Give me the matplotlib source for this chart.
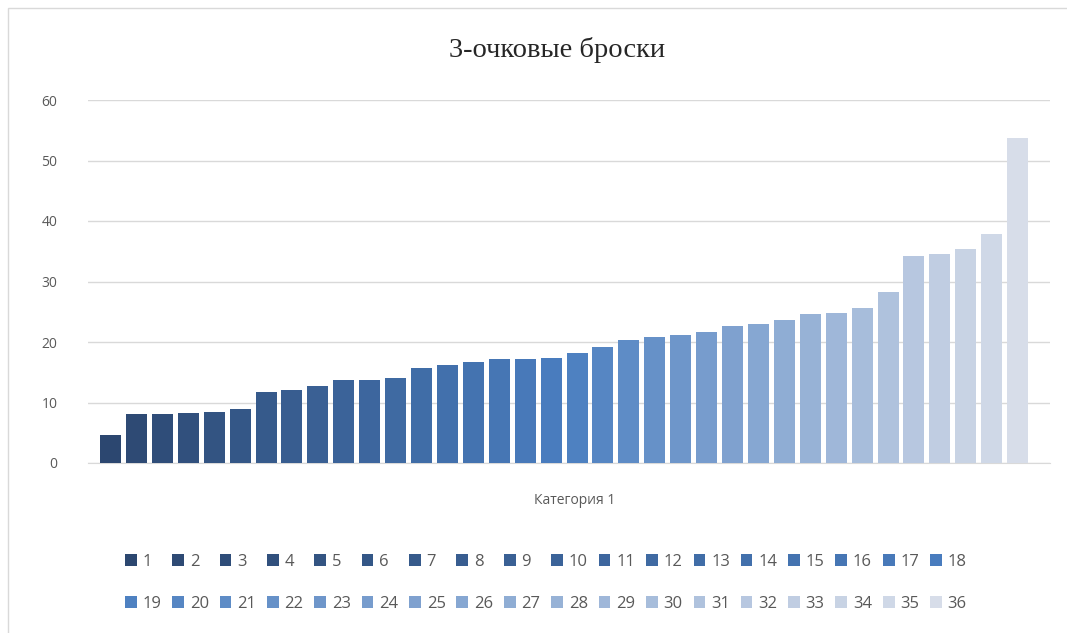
import numpy as np
import matplotlib
matplotlib.use("Agg")
import matplotlib.pyplot as plt
from matplotlib.colors import LinearSegmentedColormap
from matplotlib.patches import Rectangle

# 36 series, one category ("Категория 1")
series = [str(i) for i in range(1, 37)]
values = [4.6, 8.1, 8.1, 8.3, 8.5, 8.9, 11.8, 12.0, 12.8, 13.7, 13.7, 14.0,
          15.7, 16.2, 16.7, 17.2, 17.2, 17.4, 18.2, 19.2, 20.4, 20.9, 21.1, 21.6,
          22.6, 22.9, 23.6, 24.6, 24.8, 25.6, 28.3, 34.2, 34.5, 35.4, 37.9, 53.7]
category = "Категория 1"
title = "3-очковые броски"

# monochrome palette: dark navy -> blue -> pale grey-blue
cmap = LinearSegmentedColormap.from_list("mono", ["#2c4770", "#4a7ec0", "#d7dde9"])
colors = [cmap(i / (len(series) - 1)) for i in range(len(series))]

fig = plt.figure(figsize=(10.67, 6.33), dpi=100)
ax = fig.add_axes([88 / 1067, 1 - 463 / 633, (1050 - 88) / 1067, (463 - 100) / 633])

x = np.arange(len(series))
handles = []
for i in range(len(series)):
    b = ax.bar(x[i], values[i], width=0.81, color=colors[i], label=series[i], zorder=3)
    handles.append(b)

ax.set_xlim(-0.87, 36.25)
ax.set_ylim(0, 60)
ax.set_yticks(range(0, 61, 10))
ax.set_xticks([])
ax.grid(axis="y", color="#d9d9d9", linewidth=1, zorder=0)
for s in ["top", "right", "left"]:
    ax.spines[s].set_visible(False)
ax.spines["bottom"].set_color("#d9d9d9")
ax.tick_params(axis="y", length=0, pad=22, labelcolor="#595959", labelsize=10)
for lab in ax.get_yticklabels():
    lab.set_family("Open Sans")

fig.text(575 / 1067, 1 - 500 / 633, category, ha="center", va="center",
         fontsize=10, color="#595959", family="Open Sans")
fig.text(557 / 1067, 1 - 50 / 633, title, ha="center", va="center",
         fontsize=20.5, color="#262626", family="Liberation Serif")

# legend in two rows, ordered row by row
order = []
for k in range(18):
    order += [k, k + 18]
leg = fig.legend([handles[k] for k in order], [series[k] for k in order],
                 ncol=18, loc="center", bbox_to_anchor=(546 / 1067, 1 - 583 / 633),
                 frameon=False, handlelength=0.7, handleheight=0.7, handletextpad=0.35,
                 columnspacing=0.65, labelspacing=1.55,
                 prop={"family": "Open Sans", "size": 12})
for t in leg.get_texts():
    t.set_color("#595959")

# chart area border
fig.patches.append(Rectangle((8 / 1067, -0.1), 1.2, 1 - 8 / 633 + 0.1,
                             transform=fig.transFigure, fill=False,
                             edgecolor="#d9d9d9", linewidth=1))

fig.savefig("out.png", dpi=100)
